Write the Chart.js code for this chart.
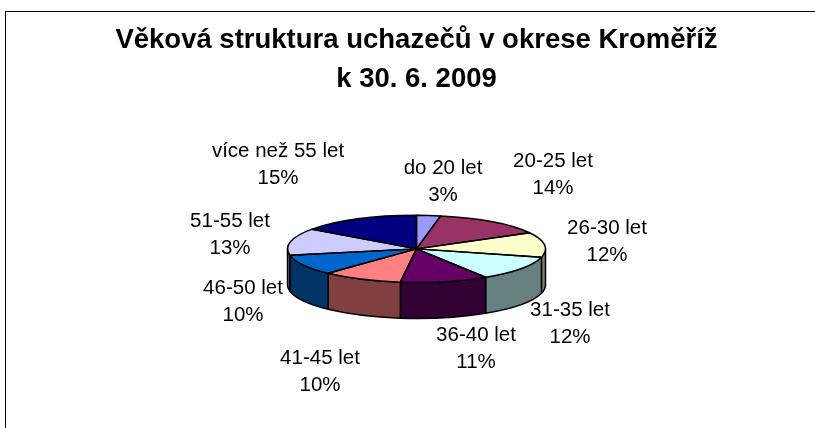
<!DOCTYPE html>
<html>
<head>
<meta charset="utf-8">
<script src="https://cdn.jsdelivr.net/npm/chart.js@4"></script>
<style>
  html, body { margin: 0; padding: 0; background: #fff; overflow: hidden; }
  #wrap { width: 815px; height: 428px; position: relative; overflow: hidden; }
  #frame { position: absolute; left: 5px; top: 11px; right: -2px; bottom: -2px; border: 1px solid #000; }
</style>
</head>
<body>
<div id="wrap">
  <canvas id="myChart" width="815" height="428"></canvas>
  <div id="frame"></div>
</div>
<script>
var titleLines = ['Věková struktura uchazečů v okrese Kroměříž', 'k 30. 6. 2009'];
var categories = ['do 20 let', '20-25 let', '26-30 let', '31-35 let', '36-40 let', '41-45 let', '46-50 let', '51-55 let', 'více než 55 let'];
var shares = [3, 14, 12, 12, 11, 10, 10, 13, 15];
var topColors = ['#9999ff', '#993366', '#ffffcc', '#ccffff', '#660066', '#ff8080', '#0066cc', '#ccccff', '#000080'];
var sideColors = ['#4d4d80', '#4d1a33', '#808066', '#668080', '#330033', '#804040', '#003366', '#666680', '#000040'];

// label centres (x, y of first line)
var labelSpots = [[443, 168], [553, 161], [607, 228], [570, 310], [476, 335], [320, 358], [243, 288], [230, 221], [278, 151]];

var squash = 0.26;
var depth = 36;
var labelFont = '20.5px "Liberation Sans"';

function arcPath(ctx, el, from, to, yShift, ccw) {
  ctx.ellipse(el.x, el.y + yShift, el.outerRadius, el.outerRadius * squash, 0, from, to, ccw);
}

var pie3d = {
  id: 'pie3d',
  beforeDatasetDraw: function (chart, args) {
    var ctx = chart.ctx;
    var arcs = args.meta.data;

    // side wall, only the part of each slice that faces us
    ctx.save();
    ctx.lineWidth = 1.5;
    ctx.strokeStyle = '#000';
    ctx.lineJoin = 'round';
    arcs.forEach(function (el, i) {
      var from = Math.max(el.startAngle, 0);
      var to = Math.min(el.endAngle, Math.PI);
      if (to <= from) return;
      ctx.beginPath();
      arcPath(ctx, el, from, to, 0, false);
      arcPath(ctx, el, to, from, depth, true);
      ctx.closePath();
      ctx.fillStyle = sideColors[i];
      ctx.fill();
      ctx.stroke();
    });
    ctx.restore();

    // squash the round pie the library draws
    var c = arcs[0];
    ctx.save();
    ctx.translate(0, c.y);
    ctx.scale(1, squash);
    ctx.translate(0, -c.y);
  },
  afterDatasetDraw: function (chart, args) {
    var ctx = chart.ctx;
    ctx.restore();

    // outlines are stroked after the transform so they stay even
    ctx.save();
    ctx.lineWidth = 1.5;
    ctx.strokeStyle = '#000';
    ctx.lineJoin = 'round';
    args.meta.data.forEach(function (el) {
      ctx.beginPath();
      ctx.moveTo(el.x, el.y);
      arcPath(ctx, el, el.startAngle, el.endAngle, 0, false);
      ctx.closePath();
      ctx.stroke();
    });
    ctx.restore();
  },
  afterDraw: function (chart) {
    var ctx = chart.ctx;
    ctx.save();
    ctx.font = labelFont;
    ctx.fillStyle = '#000';
    ctx.textAlign = 'center';
    ctx.textBaseline = 'middle';
    categories.forEach(function (name, i) {
      var spot = labelSpots[i];
      ctx.fillText(name, spot[0], spot[1]);
      ctx.fillText(shares[i] + '%', spot[0], spot[1] + 27);
    });
    ctx.restore();
  }
};

new Chart(document.getElementById('myChart'), {
  type: 'pie',
  data: {
    labels: categories,
    datasets: [{
      data: shares,
      backgroundColor: topColors,
      borderWidth: 0,
      radius: 129,
      hoverOffset: 0
    }]
  },
  options: {
    responsive: false,
    animation: false,
    layout: { padding: { left: 18, top: 0, right: 0, bottom: 30 } },
    plugins: {
      legend: { display: false },
      tooltip: { enabled: false },
      title: {
        display: true,
        text: titleLines,
        color: '#000',
        font: { family: '"Liberation Sans"', size: 27.5, weight: 'bold', lineHeight: 1.45 },
        padding: { top: 20, bottom: 0 }
      }
    }
  },
  plugins: [pie3d]
});
</script>
</body>
</html>
